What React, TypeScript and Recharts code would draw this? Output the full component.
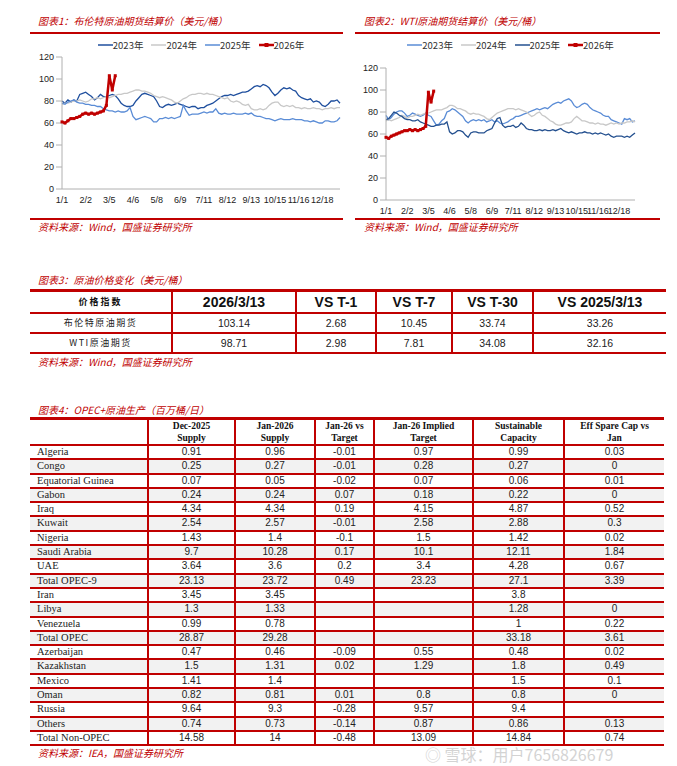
import React from 'react';
import { LineChart, Line, XAxis, YAxis, Legend } from 'recharts';

const RED = '#c00000';

// x axis: one point every 4 days, a label every 8 points
const TICK_LABELS = ['1/1', '2/2', '3/5', '4/6', '5/8', '6/9', '7/11', '8/12', '9/13', '10/15', '11/16', '12/18'];
const YEARS = ['2023年', '2024年', '2025年', '2026年'];

// Brent settlement prices (USD/bbl)
const BRENT_2023 = [
  80, 78, 81, 79, 81, 80, 86, 87, 88, 86, 84, 81, 83, 86, 84, 84, 85, 86, 85, 82,
  78, 76, 75, 75, 76, 80, 83, 86, 87, 86, 85, 84, 80, 75, 74, 76, 77, 76, 77, 78,
  77, 76, 75, 74, 75, 75, 73, 74, 74, 76, 77, 78, 80, 82, 84, 85, 85, 86, 85, 86,
  87, 88, 88, 89, 91, 93, 94, 93, 95, 94, 92, 88, 85, 87, 90, 92, 91, 92, 90, 89,
  85, 83, 82, 81, 82, 79, 80, 79, 76, 75, 77, 80, 80, 81, 78,
];
const BRENT_2024 = [
  77, 78, 78, 79, 80, 80, 81, 80, 79, 80, 82, 82, 83, 82, 83, 84, 83, 84, 85, 86,
  86, 87, 87, 88, 89, 90, 90, 89, 89, 88, 87, 85, 84, 83, 84, 83, 82, 81, 79, 78,
  80, 82, 83, 85, 86, 86, 87, 87, 86, 87, 86, 86, 85, 84, 83, 82, 83, 80, 79, 80,
  79, 77, 76, 77, 73, 72, 72, 73, 72, 73, 76, 78, 79, 79, 76, 75, 76, 75, 76, 74,
  74, 73, 74, 73, 73, 74, 73, 73, 72, 73, 73, 74, 73, 74, 74,
];
const BRENT_2025 = [
  78, 77, 79, 80, 81, 79, 78, 78, 77, 77, 76, 76, 75, 75, 73, 72, 71, 71, 70, 71,
  70, 70, 71, 74, 66, 63, 64, 65, 66, 65, 64, 61, 61, 64, 64, 65, 64, 65, 64, 65,
  66, 76, 71, 67, 68, 68, 68, 69, 70, 69, 70, 70, 73, 69, 68, 69, 68, 68, 69, 68,
  68, 68, 69, 68, 69, 67, 66, 66, 65, 64, 64, 63, 62, 63, 64, 63, 63, 63, 64, 63,
  63, 63, 62, 62, 61, 62, 61, 60, 60, 62, 62, 61, 61, 62, 65,
];
const BRENT_2026 = [61, 60, 62, 64, 64, 65, 66, 68, 69, 68, 69, 68, 69, 70, 71, 76, 103, 90, 103];

// WTI settlement prices (USD/bbl)
const WTI_2023 = [
  77, 73, 75, 78, 80, 81, 81, 79, 76, 77, 79, 78, 77, 76, 77, 79, 77, 76, 72, 68,
  69, 72, 74, 80, 81, 83, 82, 80, 78, 76, 72, 70, 72, 73, 72, 73, 72, 73, 71, 72,
  73, 71, 72, 70, 69, 70, 71, 73, 74, 76, 76, 77, 78, 79, 80, 81, 82, 83, 82, 83,
  84, 83, 85, 87, 88, 89, 88, 90, 91, 92, 90, 86, 84, 85, 87, 88, 87, 84, 82, 81,
  80, 79, 77, 76, 76, 73, 72, 71, 70, 69, 74, 73, 74, 71, 72,
];
const WTI_2024 = [
  72, 73, 72, 73, 74, 75, 77, 76, 74, 76, 76, 77, 78, 77, 78, 79, 79, 80, 81, 82,
  82, 82, 83, 84, 86, 86, 85, 83, 83, 82, 81, 79, 78, 79, 78, 78, 77, 76, 74, 73,
  75, 77, 79, 80, 81, 82, 83, 83, 83, 82, 83, 82, 81, 80, 78, 76, 77, 79, 80, 77,
  76, 74, 72, 71, 69, 68, 68, 69, 70, 70, 71, 74, 76, 74, 72, 72, 71, 70, 70, 69,
  70, 69, 69, 68, 69, 70, 69, 70, 69, 70, 70, 71, 71, 72, 71,
];
const WTI_2025 = [
  73, 74, 77, 80, 79, 77, 76, 74, 73, 73, 72, 72, 73, 71, 70, 69, 68, 67, 67, 68,
  68, 69, 69, 71, 62, 60, 61, 63, 63, 62, 59, 57, 61, 62, 62, 61, 61, 61, 63, 64,
  65, 70, 74, 75, 68, 66, 67, 67, 68, 66, 67, 70, 68, 65, 64, 64, 63, 63, 64, 63,
  64, 63, 63, 64, 63, 64, 65, 63, 62, 61, 62, 61, 60, 61, 61, 62, 61, 61, 60, 61,
  60, 61, 60, 59, 60, 58, 57, 58, 58, 58, 57, 58, 57, 59, 61,
];
const WTI_2026 = [57, 56, 58, 59, 60, 61, 62, 63, 63, 64, 63, 64, 63, 64, 65, 67, 98, 89, 99];

// price change table
const PRICE_HEAD = ['价格指数', '2026/3/13', 'VS T-1', 'VS T-7', 'VS T-30', 'VS 2025/3/13'];
const BRENT_ROW = ['布伦特原油期货', '103.14', '2.68', '10.45', '33.74', '33.26'];
const WTI_ROW = ['WTI原油期货', '98.71', '2.98', '7.81', '34.08', '32.16'];

// OPEC+ production table (mb/d)
const OPEC_HEAD = [
  ['', ''],
  ['Dec-2025', 'Supply'],
  ['Jan-2026', 'Supply'],
  ['Jan-26 vs', 'Target'],
  ['Jan-26 Implied', 'Target'],
  ['Sustainable', 'Capacity'],
  ['Eff Spare Cap vs', 'Jan'],
];
const COUNTRIES = [
  'Algeria', 'Congo', 'Equatorial Guinea', 'Gabon', 'Iraq', 'Kuwait', 'Nigeria', 'Saudi Arabia', 'UAE',
  'Total OPEC-9', 'Iran', 'Libya', 'Venezuela', 'Total OPEC', 'Azerbaijan', 'Kazakhstan', 'Mexico', 'Oman',
  'Russia', 'Others', 'Total Non-OPEC',
];
const DEC_SUPPLY = ['0.91', '0.25', '0.07', '0.24', '4.34', '2.54', '1.43', '9.7', '3.64', '23.13', '3.45', '1.3', '0.99', '28.87', '0.47', '1.5', '1.41', '0.82', '9.64', '0.74', '14.58'];
const JAN_SUPPLY = ['0.96', '0.27', '0.05', '0.24', '4.34', '2.57', '1.4', '10.28', '3.6', '23.72', '3.45', '1.33', '0.78', '29.28', '0.46', '1.31', '1.4', '0.81', '9.3', '0.73', '14'];
const VS_TARGET = ['-0.01', '-0.01', '-0.02', '0.07', '0.19', '-0.01', '-0.1', '0.17', '0.2', '0.49', '', '', '', '', '-0.09', '0.02', '', '0.01', '-0.28', '-0.14', '-0.48'];
const IMPLIED_TARGET = ['0.97', '0.28', '0.07', '0.18', '4.15', '2.58', '1.5', '10.1', '3.4', '23.23', '', '', '', '', '0.55', '1.29', '', '0.8', '9.57', '0.87', '13.09'];
const CAPACITY = ['0.99', '0.27', '0.06', '0.22', '4.87', '2.88', '1.42', '12.11', '4.28', '27.1', '3.8', '1.28', '1', '33.18', '0.48', '1.8', '1.5', '0.8', '9.4', '0.86', '14.84'];
const SPARE = ['0.03', '0', '0.01', '0', '0.52', '0.3', '0.02', '1.84', '0.67', '3.39', '', '0', '0.22', '3.61', '0.02', '0.49', '0.1', '0', '', '0.13', '0.74'];

const SANS = '"Liberation Sans", Arial, sans-serif';
const SERIF = '"Liberation Serif", "Times New Roman", serif';
const CJK = '"Noto Sans CJK SC", sans-serif';

const redText: React.CSSProperties = {
  position: 'absolute',
  color: RED,
  fontStyle: 'italic',
  fontFamily: CJK,
  fontSize: 10,
  lineHeight: '12px',
  whiteSpace: 'nowrap',
};

const rule = (left: number, top: number, width: number, h = 2): React.CSSProperties => ({
  position: 'absolute', left, top, width, height: h, background: RED,
});

const LegendRow = ({ payload }: any) => (
  <div style={{ display: 'flex', justifyContent: 'center', gap: 8, fontFamily: SANS, fontSize: 9.5, color: '#333' }}>
    {(payload || []).map((p: any) => (
      <div key={p.value} style={{ display: 'flex', alignItems: 'center' }}>
        <svg width={15} height={8}>
          <line x1={0} y1={4} x2={15} y2={4} stroke={p.color} strokeWidth={p.value === '2026年' ? 2.5 : 1.5} />
          {p.value === '2026年' && <rect x={5.5} y={2} width={4} height={4} fill={p.color} />}
        </svg>
        <span style={{ fontFamily: CJK, fontSize: 9.5 }}>{p.value}</span>
      </div>
    ))}
  </div>
);

const SquareDot = (p: any) => {
  if (p.cy == null || p.value == null) return <g key={`n${p.index}`} />;
  return <rect key={`d${p.index}`} x={p.cx - 1.5} y={p.cy - 1.5} width={3} height={3} fill={RED} />;
};

interface PriceChartProps {
  left: number;
  width: number;
  yAxisWidth: number;
  marginTop: number;
  marginBottom: number;
  series: number[][];
  colors: string[];
}

const PriceChart = ({ left, width, yAxisWidth, marginTop, marginBottom, series, colors }: PriceChartProps) => {
  const data = series[0].map((_, i) => ({
    i,
    y2023: series[0][i],
    y2024: series[1][i],
    y2025: series[2][i],
    y2026: series[3][i],
  }));
  const ticks = TICK_LABELS.map((_, k) => k * 8);
  const axisTick = { fontSize: 9, fill: '#222', fontFamily: SANS };

  return (
    <div style={{ position: 'absolute', left, top: 0 }}>
      <LineChart width={width} height={240} data={data} margin={{ top: marginTop, right: 5, bottom: marginBottom, left: 0 }}>
        <XAxis
          dataKey="i"
          ticks={ticks}
          interval={0}
          tickFormatter={(v) => TICK_LABELS[v / 8]}
          tick={axisTick}
          stroke="#b0b0b0"
          tickLine={false}
          tickSize={6}
          height={20}
        />
        <YAxis
          domain={[0, 120]}
          ticks={[0, 20, 40, 60, 80, 100, 120]}
          tick={axisTick}
          stroke="#b0b0b0"
          tickSize={6}
          width={yAxisWidth}
        />
        <Legend
          verticalAlign="middle"
          align="center"
          layout="horizontal"
          content={<LegendRow />}
          wrapperStyle={{ top: 38, left: yAxisWidth, width: width - yAxisWidth - 5 }}
        />
        {YEARS.map((name, k) => (
          <Line
            key={name}
            name={name}
            dataKey={`y${name.slice(0, 4)}`}
            stroke={colors[k]}
            strokeWidth={k === 3 ? 2.5 : 1.3}
            dot={k === 3 ? SquareDot : false}
            isAnimationActive={false}
          />
        ))}
      </LineChart>
    </div>
  );
};

const cellBase: React.CSSProperties = { padding: 0, textAlign: 'center', verticalAlign: 'middle' };

export default function App() {
  return (
    <div style={{ position: 'absolute', left: 0, top: 0, width: 677, height: 766, background: '#fff', overflow: 'hidden' }}>
      {/* chart 1 */}
      <div style={{ ...redText, left: 38, top: 15 }}>图表1：布伦特原油期货结算价（美元/桶）</div>
      <div style={rule(30, 32, 313)} />
      <PriceChart
        left={0}
        width={345}
        yAxisWidth={62}
        marginTop={57}
        marginBottom={31}
        series={[BRENT_2023, BRENT_2024, BRENT_2025, BRENT_2026]}
        colors={['#1f4f9e', '#c8c8c8', '#5a8cd6', RED]}
      />
      <div style={rule(30, 218, 313)} />
      <div style={{ ...redText, left: 38, top: 221 }}>资料来源：Wind，国盛证券研究所</div>

      {/* chart 2 */}
      <div style={{ ...redText, left: 364, top: 15 }}>图表2：WTI原油期货结算价（美元/桶）</div>
      <div style={rule(355, 32, 305)} />
      <PriceChart
        left={340}
        width={300}
        yAxisWidth={46}
        marginTop={68}
        marginBottom={20}
        series={[WTI_2023, WTI_2024, WTI_2025, WTI_2026]}
        colors={['#5a8cd6', '#c8c8c8', '#24508f', RED]}
      />
      <div style={rule(355, 218, 305)} />
      <div style={{ ...redText, left: 364, top: 221 }}>资料来源：Wind，国盛证券研究所</div>

      {/* table 3 */}
      <div style={{ ...redText, left: 38, top: 274 }}>图表3：原油价格变化（美元/桶）</div>
      <table
        style={{
          position: 'absolute', left: 30, top: 289, width: 636, borderCollapse: 'collapse', tableLayout: 'fixed',
          borderTop: `3px solid ${RED}`,
        }}
      >
        <colgroup>
          {[142, 124, 80, 76, 81, 133].map((w, k) => <col key={k} style={{ width: w }} />)}
        </colgroup>
        <tbody>
          <tr style={{ height: 22 }}>
            {PRICE_HEAD.map((h, k) => (
              <td
                key={h}
                style={{
                  ...cellBase,
                  borderBottom: `2px solid ${RED}`,
                  borderLeft: k ? `2px solid ${RED}` : 'none',
                  fontFamily: k ? SANS : CJK,
                  fontWeight: 'bold',
                  fontSize: k ? 14 : 9,
                  letterSpacing: k ? 0 : 2,
                  color: '#111',
                }}
              >
                {h}
              </td>
            ))}
          </tr>
          {[BRENT_ROW, WTI_ROW].map((row) => (
            <tr key={row[0]} style={{ height: 20 }}>
              {row.map((c, k) => (
                <td
                  key={k}
                  style={{
                    ...cellBase,
                    borderBottom: `2px solid ${RED}`,
                    borderLeft: k ? `2px solid ${RED}` : 'none',
                    fontFamily: k ? SANS : CJK,
                    fontSize: k ? 10.5 : 9,
                    letterSpacing: k ? 0 : 1.5,
                    color: '#222',
                  }}
                >
                  {c}
                </td>
              ))}
            </tr>
          ))}
        </tbody>
      </table>
      <div style={{ ...redText, left: 38, top: 356 }}>资料来源：Wind，国盛证券研究所</div>

      {/* table 4 */}
      <div style={{ ...redText, left: 38, top: 404 }}>图表4：OPEC+原油生产（百万桶/日）</div>
      <table
        style={{
          position: 'absolute', left: 30, top: 417, width: 634, borderCollapse: 'collapse', tableLayout: 'fixed',
          borderTop: `3px solid ${RED}`,
        }}
      >
        <colgroup>
          {[118, 87, 80, 59, 99, 91, 100].map((w, k) => <col key={k} style={{ width: w }} />)}
        </colgroup>
        <tbody>
          <tr style={{ height: 25 }}>
            {OPEC_HEAD.map((h, k) => (
              <td
                key={k}
                style={{
                  ...cellBase,
                  borderBottom: `2px solid ${RED}`,
                  borderLeft: k ? `2px solid ${RED}` : 'none',
                  fontFamily: SERIF,
                  fontWeight: 'bold',
                  fontSize: 9.5,
                  lineHeight: '12px',
                  color: '#111',
                }}
              >
                {h[0]}
                <br />
                {h[1]}
              </td>
            ))}
          </tr>
          {COUNTRIES.map((name, r) => {
            const cells = [DEC_SUPPLY[r], JAN_SUPPLY[r], VS_TARGET[r], IMPLIED_TARGET[r], CAPACITY[r], SPARE[r]];
            return (
              <tr key={name} style={{ background: r % 2 ? '#f2f2f2' : '#fff' }}>
                <td
                  style={{
                    ...cellBase, textAlign: 'left', paddingLeft: 7, borderBottom: `2px solid ${RED}`,
                    fontFamily: SERIF, fontSize: 10.5, lineHeight: '12.3px', color: '#222',
                  }}
                >
                  {name}
                </td>
                {cells.map((c, k) => (
                  <td
                    key={k}
                    style={{
                      ...cellBase, borderBottom: `2px solid ${RED}`, borderLeft: `2px solid ${RED}`,
                      fontFamily: SANS, fontSize: 10, lineHeight: '12.3px', color: '#222',
                    }}
                  >
                    {c}
                  </td>
                ))}
              </tr>
            );
          })}
        </tbody>
      </table>
      <div style={{ ...redText, left: 38, top: 747 }}>资料来源：IEA，国盛证券研究所</div>

      {/* watermark */}
      <div
        style={{
          position: 'absolute', left: 425, top: 746, fontFamily: CJK, fontSize: 16, lineHeight: '16px',
          color: '#a0a0a0', opacity: 0.45, whiteSpace: 'nowrap', pointerEvents: 'none',
        }}
      >
        ◎ 雪球：用户7656826679
      </div>
    </div>
  );
}
